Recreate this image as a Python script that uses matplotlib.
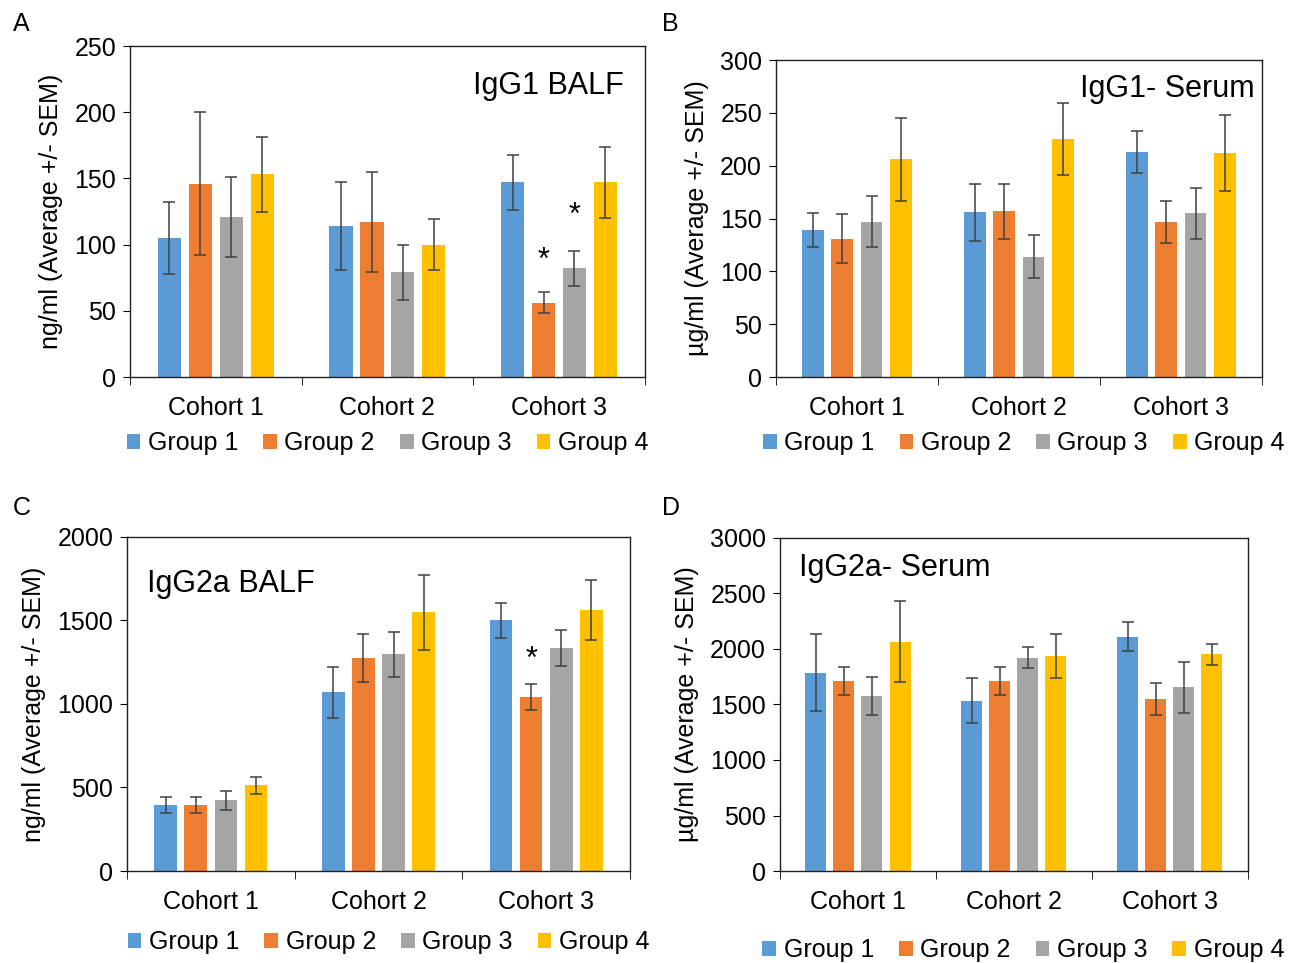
import numpy as np
import matplotlib.pyplot as plt

plt.rcParams['font.family'] = ['Liberation Sans', 'DejaVu Sans']

cohorts = ['Cohort 1', 'Cohort 2', 'Cohort 3']
groups = ['Group 1', 'Group 2', 'Group 3', 'Group 4']
colors = ['#5B9BD5', '#ED7D31', '#A5A5A5', '#FFC000']

# values per group (rows) across cohorts (columns)
igg1_balf = [[105, 114, 147], [146, 117, 56], [121, 79, 82], [153, 100, 147]]
igg1_balf_err = [[27, 33, 21], [54, 38, 8], [30, 21, 13], [28, 19, 27]]

igg1_serum = [[139, 156, 213], [131, 157, 147], [147, 114, 155], [206, 225, 212]]
igg1_serum_err = [[16, 27, 20], [23, 26, 20], [24, 20, 24], [39, 34, 36]]

igg2a_balf = [[394, 1070, 1500], [394, 1276, 1042], [424, 1296, 1334], [512, 1548, 1560]]
igg2a_balf_err = [[48, 154, 106], [48, 142, 76], [58, 134, 106], [48, 226, 180]]

igg2a_serum = [[1787, 1534, 2109], [1712, 1712, 1550], [1579, 1920, 1655], [2064, 1935, 1950]]
igg2a_serum_err = [[346, 205, 129], [129, 129, 144], [172, 96, 229], [364, 198, 96]]

# significance stars: (group index, cohort index, y value)
stars_a = [(1, 2, 88), (2, 2, 122)]
stars_c = [(1, 2, 1262)]


def panel(fig, rect, vals, errs, ymax, ystep, ylabel, title, tpos, letter, lpos,
          stars=(), leg=(0.5, -0.2)):
    ax = fig.add_axes(rect)
    x = np.arange(len(cohorts))
    step = 0.18
    for i in range(len(groups)):
        ax.bar(x + (i - 1.5) * step, vals[i], 0.135, color=colors[i], label=groups[i],
               yerr=errs[i], capsize=4,
               error_kw=dict(ecolor='#404040', elinewidth=1.1, capthick=1.1))
    for g, c, y in stars:
        ax.text(x[c] + (g - 1.5) * step, y, '*', ha='center', va='center', fontsize=22)
    ax.set_xlim(-0.5, 2.5)
    ax.set_ylim(0, ymax)
    ax.set_yticks(np.arange(0, ymax + 1, ystep))
    ax.set_xticks(x)
    ax.set_xticklabels(cohorts)
    ax.set_xticks([0.5, 1.5, 2.5, -0.5], minor=True)
    ax.tick_params(axis='x', which='major', length=0, pad=14, labelsize=18)
    ax.tick_params(axis='x', which='minor', length=6, direction='out')
    ax.tick_params(axis='y', length=5, labelsize=18, pad=5)
    for s in ax.spines.values():
        s.set_linewidth(1.0)
        s.set_color('#202020')
    ax.set_ylabel(ylabel, fontsize=18, labelpad=8)
    ax.text(tpos[0], tpos[1], title, transform=ax.transAxes, fontsize=22,
            ha=tpos[2], va='center')
    fig.text(lpos[0], lpos[1], letter, fontsize=18)
    ax.legend(loc='center', bbox_to_anchor=leg, ncol=4, frameon=False,
              fontsize=18, handlelength=0.55, handleheight=0.55, handletextpad=0.3,
              columnspacing=1.0, borderaxespad=0)
    return ax


fig = plt.figure(figsize=(13.03, 9.63), dpi=100)

panel(fig, [0.0998, 0.6085, 0.395, 0.3437], igg1_balf, igg1_balf_err, 250, 50,
      'ng/ml (Average +/- SEM)', 'IgG1 BALF', (0.96, 0.88, 'right'), 'A', (0.010, 0.968),
      stars_a, leg=(0.5, -0.2))
panel(fig, [0.5955, 0.6085, 0.373, 0.329], igg1_serum, igg1_serum_err, 300, 50,
      'µg/ml (Average +/- SEM)', 'IgG1- Serum', (0.985, 0.91, 'right'), 'B', (0.508, 0.968),
      leg=(0.51, -0.208))
panel(fig, [0.0975, 0.0955, 0.386, 0.347], igg2a_balf, igg2a_balf_err, 2000, 500,
      'ng/ml (Average +/- SEM)', 'IgG2a BALF', (0.04, 0.86, 'left'), 'C', (0.010, 0.465),
      stars_c, leg=(0.52, -0.213))
panel(fig, [0.5986, 0.0955, 0.359, 0.346], igg2a_serum, igg2a_serum_err, 3000, 500,
      'µg/ml (Average +/- SEM)', 'IgG2a- Serum', (0.04, 0.91, 'left'), 'D', (0.508, 0.465),
      leg=(0.52, -0.237))

fig.savefig('out.png', dpi=100)
